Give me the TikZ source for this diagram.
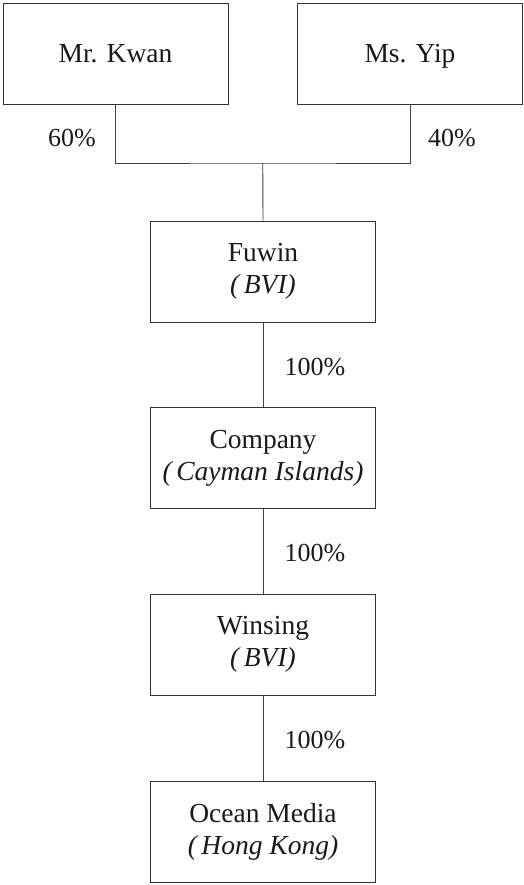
\documentclass[tikz,border=0pt]{standalone}
\usepackage{fontspec}
\setmainfont{Liberation Serif}
\tikzset{
  entity/.style={draw=black!80, line width=0.9pt, rectangle, minimum width=225pt, minimum height=101pt, align=center, font=\fontsize{27.5}{32}\selectfont, inner sep=0pt, text=black!90},
  single/.style={text height=24pt, text depth=6pt},
  pct/.style={font=\fontsize{26}{30}\selectfont, inner sep=0pt, text=black!90},
  link/.style={draw=black!75, line width=0.9pt}
}
\begin{document}
\begin{tikzpicture}[x=1pt,y=1pt]
\useasboundingbox (0,0) rectangle (523,-885);
\node[entity,single] (kwan) at (115.5,-54) {Mr. Kwan};
\node[entity,single] (yip) at (410,-54) {Ms. Yip};
\node[entity] (fuwin) at (263,-271.5) {Fuwin\\\textit{(\,BVI)}};
\node[entity] (company) at (263,-458) {Company\\\textit{(\,Cayman Islands)}};
\node[entity] (winsing) at (263,-644.5) {Winsing\\\textit{(\,BVI)}};
\node[entity] (ocean) at (263,-831.5) {Ocean Media\\\textit{(\,Hong Kong)}};
\coordinate (j) at (262.75,-163);
\draw[link] (kwan.south) |- (j) -| (yip.south);
\draw[link] (j) -- (fuwin.north);
\draw[link] (fuwin.south) -- (company.north);
\draw[link] (company.south) -- (winsing.north);
\draw[link] (winsing.south) -- (ocean.north);
\node[pct] (p60) at (72,-138) {60\%};
\node[pct] (p40) at (452,-138) {40\%};
\node[pct] (p1) at (315,-367) {100\%};
\node[pct] (p2) at (315,-553) {100\%};
\node[pct] (p3) at (315,-740) {100\%};
\end{tikzpicture}
\end{document}
